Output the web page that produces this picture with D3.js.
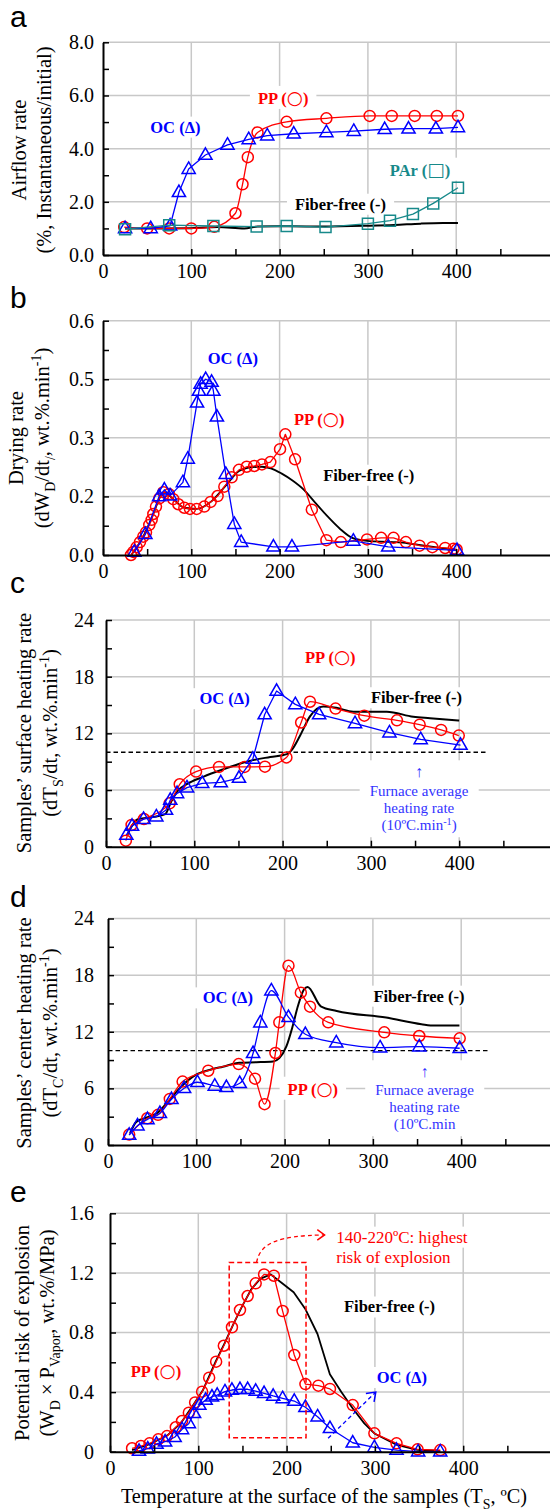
<!DOCTYPE html>
<html><head><meta charset="utf-8">
<script src="https://cdn.jsdelivr.net/npm/d3@7"></script>
<style>body{margin:0;background:#fff}</style>
</head><body>
<script>
// ---------------- DATA ----------------
const xTicks = [0,100,200,300,400];
const xTickLabels = ["0","100","200","300","400"];
const xGridVals = [100,200,300,400];
const xMinor = [50,150,250,350,450];

// panel a: airflow rate
const aYTicks=[0,2,4,6,8], aYLabels=["0.0","2.0","4.0","6.0","8.0"], aYMinor=[1,3,5,7];
const aOC=[[25,1.0],[54,1.0],[76,1.1],[86,2.36],[97,3.23],[116,3.76],[141,4.14],[165,4.35],[186,4.49],[216,4.56],[253,4.61],[284,4.66],[319,4.73],[346,4.75],[377,4.75],[402,4.8]];
const aPP=[[24,1.05],[50,1.0],[75,1.0],[100,1.0],[126,1.06],[150,1.57],[158,2.66],[164,3.68],[175,4.61],[208,5.01],[253,5.14],[302,5.23],[327,5.23],[353,5.23],[378,5.23],[402,5.23]];
const aPAr=[[25,0.97],[75,1.12],[125,1.09],[174,1.07],[208,1.09],[252,1.05],[300,1.18],[325,1.29],[351,1.54],[374,1.94],[402,2.53]];
const aFF=[[25,1.0],[50,1.0],[100,1.01],[130,1.05],[160,1.0],[175,1.07],[210,1.08],[250,1.07],[300,1.1],[330,1.13],[360,1.18],[385,1.2],[402,1.2]];

// panel b: drying rate
const bYTicks=[0,0.15,0.3,0.45,0.6], bYLabels=["0.0","0.2","0.3","0.5","0.6"], bYMinor=[0.075,0.225,0.375,0.525];
const bOC=[[35.5,0.008],[48,0.053],[63.5,0.15],[69.5,0.167],[76,0.152],[90.5,0.186],[96,0.246],[106.5,0.39],[108.7,0.42],[110.6,0.438],[116.3,0.45],[123,0.443],[125,0.42],[129,0.354],[139,0.207],[148.7,0.079],[156.5,0.033],[193,0.021],[214,0.021],[283.5,0.036],[323,0.021],[401,0.012]];
const bPP=[[31.7,0.0],[34.3,0.008],[38.1,0.02],[41.9,0.033],[45.6,0.047],[48.7,0.058],[52.4,0.077],[55.1,0.09],[57,0.105],[60,0.124],[63.8,0.145],[68.3,0.161],[74.7,0.156],[79.6,0.143],[85.3,0.13],[92.1,0.121],[98.5,0.118],[106.1,0.118],[114.7,0.124],[121.9,0.136],[129.8,0.151],[137.4,0.175],[145.7,0.199],[154,0.218],[162.7,0.226],[171.3,0.228],[180,0.232],[189.5,0.238],[200.5,0.271],[206.5,0.309],[217.5,0.245],[236.5,0.116],[253,0.038],[269.3,0.033],[299,0.04],[315,0.044],[329,0.044],[343,0.033],[358.5,0.024],[373,0.02],[387.5,0.018],[397,0.016],[400.5,0.014]];
const bFF=[[32,0.0],[45,0.045],[57,0.105],[65,0.15],[70,0.16],[80,0.142],[92,0.121],[106,0.118],[122,0.136],[138,0.175],[154,0.215],[165,0.224],[180,0.226],[190,0.222],[202,0.209],[215,0.19],[227,0.168],[240,0.135],[253,0.102],[268,0.068],[283,0.043],[299,0.036],[329,0.033],[345,0.03],[360,0.025],[376,0.02],[400,0.013]];

// panel c: surface heating rate
const cdYTicks=[0,6,12,18,24], cdYLabels=["0","6","12","18","24"], cdYMinor=[3,9,15,21];
const furnaceRate=[10];
const furnaceLineEnd=[0,433];
const cOC=[[23,1.24],[29.5,2.19],[42.5,2.92],[57,3.18],[68,3.89],[72.8,4.94],[80.5,5.65],[91.7,6.25],[109,6.71],[130,6.8],[150.6,7.27],[166.3,9.29],[179.7,14.0],[193.2,16.48],[214.4,15.07],[241.4,14.0],[282,13.06],[321,12.07],[356.4,11.36],[401.5,10.76]];
const cPP=[[22.5,0.64],[29,2.3],[43,2.93],[72,4.59],[83.5,6.61],[102,7.95],[128,8.45],[157,8.45],[180,8.47],[204.3,9.45],[221,13.15],[231,15.35],[260,14.62],[292.5,13.87],[329.5,13.38],[355.2,12.92],[379.5,12.36],[399.5,11.76]];
const cFF=[[24,1.2],[27,1.8],[36,2.9],[57,3.2],[67,3.45],[74,4.8],[82,6.0],[91,6.6],[110,7.4],[133,8.2],[159,9.0],[186,9.5],[205,9.8],[210,10.2],[220,11.8],[231,13.8],[246,14.85],[261,14.7],[280,14.3],[318,14.3],[348,13.75],[367,13.6],[400,13.35]];

// panel d: center heating rate
const dOC=[[24,1.06],[33.4,2.05],[44.7,2.72],[58.8,3.36],[71.9,4.85],[86.2,6.01],[101.3,6.65],[120.9,6.26],[134.1,6.12],[149.2,6.54],[164.3,9.72],[172.5,12.97],[185,16.36],[204.4,13.54],[223.5,11.74],[258.5,10.85],[308.2,10.32],[352.5,10.42],[398.3,10.25]];
const dPP=[[24,1.1],[44.5,2.83],[56.7,3.2],[70,4.88],[84.5,6.72],[113.5,7.87],[148,8.57],[166.5,7.03],[177.3,4.33],[189.6,9.75],[194,13.0],[204.4,19.0],[218.4,16.14],[228.8,14.66],[249.4,13.0],[312.9,11.94],[352.5,11.55],[398.3,11.3]];
const dFF=[[25,1.25],[32,2.45],[42,2.85],[55,3.35],[70,4.8],[81,6.0],[99,7.4],[115,7.95],[130,8.3],[149,8.72],[168,8.77],[187,8.85],[194,9.2],[202,10.45],[209,12.55],[215,14.7],[222,16.5],[226,16.75],[241,14.7],[259,14.2],[315,13.5],[355,12.8],[370,12.65],[398,12.65]];

// panel e: potential risk of explosion
const eYTicks=[0,0.4,0.8,1.2,1.6], eYLabels=["0","0.4","0.8","1.2","1.6"], eYMinor=[0.2,0.6,1.0,1.4];
const ePP=[[25,0.023],[35,0.038],[44.8,0.056],[54.7,0.083],[64.6,0.105],[74.5,0.164],[81.6,0.206],[89.3,0.262],[96.4,0.331],[104.3,0.403],[112.3,0.497],[120.2,0.604],[128.9,0.711],[138.1,0.835],[147.2,0.951],[155.9,1.045],[165,1.13],[174.5,1.19],[185.6,1.181],[195.5,0.944],[208.7,0.649],[221.3,0.454],[236,0.443],[249.1,0.421],[274.9,0.313],[299.4,0.123],[324.5,0.056],[348.3,0.016],[374.1,0.011]];
const eOC=[[32.9,0.005],[42.8,0.02],[52.7,0.052],[62.4,0.067],[73.2,0.097],[81.6,0.15],[89.3,0.19],[95.2,0.258],[101.2,0.313],[108.3,0.347],[115.5,0.369],[121.4,0.38],[130.2,0.403],[138.1,0.414],[147.2,0.419],[155.9,0.419],[165,0.407],[174.5,0.392],[184.8,0.374],[195.5,0.358],[208.7,0.34],[221.3,0.298],[235.1,0.235],[249.1,0.157],[274.9,0.06],[299.4,0.029],[324.5,0.011],[349,0.0],[374,0.0]];
const eFF=[[25,0.01],[45,0.05],[65,0.11],[80,0.19],[95,0.32],[105,0.41],[120,0.61],[130,0.73],[140,0.86],[150,0.98],[160,1.09],[170,1.16],[182,1.19],[195,1.13],[208,1.07],[221,0.96],[235,0.79],[249,0.52],[262,0.4],[275,0.29],[288,0.19],[300,0.12],[325,0.045],[348,0.012],[374,0.005]];
const eRiskBoxX=[135,222], eRiskBoxY=[0.094,1.27];

// ---------------- DRAWING ----------------
const RED="#ff0000", BLUE="#0000ff", TEAL="#17898a", BLACK="#000";
const SERIF="'Liberation Serif','Times New Roman',serif";
const KX=0.883;
const svg=d3.select("body").append("svg").attr("width",550).attr("height",1511)
  .style("font-family",SERIF);

const markerPath={
  circle:d3.symbol(d3.symbolCircle,Math.PI*5.5*5.5)(),
  tri:"M0,-7.2L6.6,4.3L-6.6,4.3Z",
  sq:"M-5.5,-5.5h11v11h-11Z"
};

function rich(textSel, segs, fs){
  let shift=0;
  segs.forEach(s=>{
    const t=s[0], type=s[1]||"";
    const target = type==="sub"? fs*0.28 : type==="sup"? -fs*0.38 : 0;
    const ts=textSel.append("tspan").text(t).attr("dy",target-shift);
    if(type==="sub"||type==="sup") ts.attr("font-size",fs*0.68);
    if(type==="sym") ts.attr("font-size",fs*1.12).attr("font-weight","normal").attr("font-family","'DejaVu Sans',sans-serif");
    shift=target;
  });
}

function drawPanel(p){
  const g=svg.append("g");
  const x=d3.scaleLinear().domain([0,(550-p.x0)/KX]).range([p.x0,550]);
  const y=d3.scaleLinear().domain([0,p.yMax]).range([p.yBottom,p.yTop]);
  const grid=g.append("g"), bg=g.append("g"), dat=g.append("g"), ax=g.append("g"), txt=g.append("g");
  p.x=x; p.y=y; p.bg=bg; p.dat=dat; p.txt=txt;

  grid.selectAll("line.h").data(p.yTicks.filter(v=>v>0)).join("line").attr("class","h")
    .attr("x1",p.x0).attr("x2",550).attr("y1",d=>y(d)).attr("y2",d=>y(d))
    .attr("stroke","#c8c8c8").attr("stroke-width",1.5);
  grid.selectAll("line.v").data(xGridVals).join("line").attr("class","v")
    .attr("x1",d=>x(d)).attr("x2",d=>x(d)).attr("y1",p.yBottom).attr("y2",p.yTop)
    .attr("stroke","#c8c8c8").attr("stroke-width",1.5);

  const xa=ax.append("g").attr("transform",`translate(0,${p.yBottom})`)
    .call(d3.axisBottom(x).tickValues(xTicks).tickFormat((d,i)=>xTickLabels[i]).tickSize(-6).tickSizeOuter(0).tickPadding(9));
  const xm=ax.append("g").attr("transform",`translate(0,${p.yBottom})`)
    .call(d3.axisBottom(x).tickValues(xMinor).tickFormat("").tickSize(-6).tickSizeOuter(0));
  xm.select(".domain").remove();
  const ya=ax.append("g").attr("transform",`translate(${p.x0},0)`)
    .call(d3.axisLeft(y).tickValues(p.yTicks).tickFormat((d,i)=>p.yLabels[i]).tickSize(-6).tickSizeOuter(0).tickPadding(p.x0-94));
  const ym=ax.append("g").attr("transform",`translate(${p.x0},0)`)
    .call(d3.axisLeft(y).tickValues(p.yMinor).tickFormat("").tickSize(-6).tickSizeOuter(0));
  ym.select(".domain").remove();
  [xa,xm,ya,ym].forEach(a=>{
    a.attr("font-family",SERIF).attr("font-size",20);
    a.selectAll(".domain").attr("stroke","#000").attr("stroke-width",2);
    a.selectAll(".tick line").attr("stroke","#000").attr("stroke-width",1.5);
    a.selectAll(".tick text").attr("fill","#000");
  });

  txt.append("text").attr("x",p.letter[1]).attr("y",p.letter[2]).text(p.letter[0])
    .attr("font-family","'Liberation Sans',Arial,sans-serif").attr("font-size",30);

  const fs=20.5;
  [[p.ylab[0],p.ylabX[0]],[p.ylab[1],p.ylabX[1]]].forEach(([segs,bx])=>{
    const t=txt.append("text").attr("transform",`translate(${bx},${p.ylabC}) rotate(-90)`)
      .attr("text-anchor","middle").attr("font-size",fs);
    rich(t,segs,fs);
  });

  if(p.dashed){
    dat.append("line").attr("x1",x(furnaceLineEnd[0])).attr("x2",x(furnaceLineEnd[1]))
      .attr("y1",y(furnaceRate[0])).attr("y2",y(furnaceRate[0]))
      .attr("stroke","#000").attr("stroke-width",1.3).attr("stroke-dasharray","4.5,3");
  }

  p.series.forEach(s=>{
    const line=d3.line().x(d=>x(d[0])).y(d=>y(d[1])).curve(s.curve||d3.curveLinear);
    dat.append("path").attr("d",line(s.data)).attr("fill","none").attr("stroke",s.color)
      .attr("stroke-width",s.w||1.3).attr("stroke-linejoin","round");
    if(s.marker){
      dat.append("g").selectAll("path").data(s.data).join("path")
        .attr("transform",d=>`translate(${x(d[0])},${y(d[1])})`)
        .attr("d",markerPath[s.marker]).attr("fill","none").attr("stroke",s.color).attr("stroke-width",1.5);
    }
  });

  p.labels.forEach(l=>addLabel(p,l));
  if(p.extra) p.extra(p);
}

function addLabel(p,l){
  const fs=l.size||16.5;
  const t=p.txt.append("text").attr("x",p.x(l.at[0])).attr("y",p.y(l.at[1])+fs*0.35)
    .attr("text-anchor",l.anchor||"middle").attr("font-size",fs)
    .attr("font-weight",l.weight||"bold").attr("fill",l.color);
  rich(t,l.segs,fs);
  if(l.bg!==false){
    const b=t.node().getBBox(); const px=l.padX==null?8:l.padX, py=l.padY==null?1:l.padY;
    p.bg.append("rect").attr("x",b.x-px).attr("y",b.y-py).attr("width",b.width+2*px).attr("height",b.height+2*py).attr("fill","#fff");
  }
  return t;
}

function furnace(p,cx,lines,arrowV){
  const items=[];
  items.push(addLabel(p,{segs:[["↑"]],at:[cx,arrowV],color:"#3333ff",weight:"normal",size:16,bg:false}));
  lines.forEach(([segs,v])=>items.push(addLabel(p,{segs,at:[cx,v],color:"#3333ff",weight:"normal",size:15,bg:false})));
  let x0=1e9,y0=1e9,x1=-1e9,y1=-1e9;
  items.forEach(t=>{const b=t.node().getBBox();x0=Math.min(x0,b.x);y0=Math.min(y0,b.y);x1=Math.max(x1,b.x+b.width);y1=Math.max(y1,b.y+b.height);});
  p.bg.append("rect").attr("x",x0-10).attr("y",y0-3).attr("width",x1-x0+20).attr("height",y1-y0+6).attr("fill","#fff");
}

function chevron(sel,tip,from,color,len){
  const ang=Math.atan2(tip[1]-from[1],tip[0]-from[0]);
  const a1=ang+Math.PI*0.8, a2=ang-Math.PI*0.8;
  sel.append("path").attr("d",`M${tip[0]+len*Math.cos(a1)},${tip[1]+len*Math.sin(a1)}L${tip[0]},${tip[1]}L${tip[0]+len*Math.cos(a2)},${tip[1]+len*Math.sin(a2)}`)
    .attr("fill","none").attr("stroke",color).attr("stroke-width",1.5);
}

const PPsegs=[["PP ("],["○","sym"],[")"]];
const OCsegs=[["OC ("],["Δ"],[")"]];
const FFsegs=[["Fiber-free (-)"]];
const subMin=[["(dT"],["S","sub"],["/dt, wt.%.min"],["-1","sup"],[")"]];

const panels=[
 {x0:103,yBottom:255,yTop:42.3,yMax:8,yTicks:aYTicks,yLabels:aYLabels,yMinor:aYMinor,
  letter:["a",10,27],ylabC:150,ylabX:[26,51],
  ylab:[[["Airflow rate"]],[["(%, Instantaneous/initial)"]]],
  series:[{data:aFF,color:BLACK,w:2,curve:d3.curveMonotoneX},
          {data:aPP,color:RED,marker:"circle",curve:d3.curveMonotoneX},
          {data:aOC,color:BLUE,marker:"tri"},
          {data:aPAr,color:TEAL,marker:"sq"}],
  labels:[{segs:PPsegs,at:[204,5.9],color:RED},{segs:OCsegs,at:[82,4.82],color:BLUE},
          {segs:[["PAr ("],["□","sym"],[")"]],at:[359,3.2],color:TEAL},{segs:FFsegs,at:[269,1.92],color:BLACK}]},
 {x0:103,yBottom:555,yTop:320.7,yMax:0.6,yTicks:bYTicks,yLabels:bYLabels,yMinor:bYMinor,
  letter:["b",10,308],ylabC:438,ylabX:[23,49],
  ylab:[[["Drying rate"]],[["(dW"],["D","sub"],["/dt"],["/","sub"],[", wt.%.min"],["-1","sup"],[")"]]],
  series:[{data:bFF,color:BLACK,w:1.8,curve:d3.curveMonotoneX},
          {data:bPP,color:RED,marker:"circle"},
          {data:bOC,color:BLUE,marker:"tri"}],
  labels:[{segs:OCsegs,at:[147,0.505],color:BLUE},{segs:PPsegs,at:[244.8,0.348],color:RED},{segs:FFsegs,at:[301,0.205],color:BLACK}]},
 {x0:106,yBottom:846.7,yTop:620,yMax:24,yTicks:cdYTicks,yLabels:cdYLabels,yMinor:cdYMinor,dashed:true,
  letter:["c",10,593],ylabC:733,ylabX:[31,57],
  ylab:[[["Samples’ surface heating rate"]],subMin],
  series:[{data:cFF,color:BLACK,w:2,curve:d3.curveMonotoneX},
          {data:cPP,color:RED,marker:"circle",curve:d3.curveMonotoneX},
          {data:cOC,color:BLUE,marker:"tri"}],
  labels:[{segs:PPsegs,at:[254,20.1],color:RED},{segs:OCsegs,at:[134.3,15.7],color:BLUE},{segs:FFsegs,at:[351.6,15.8],color:BLACK}],
  extra:p=>furnace(p,354.5,[[[["Furnace average"]],5.93],[[["heating rate"]],4.13],[[["(10ºC.min"],["-1","sup"],[")"]],2.3]],7.94)},
 {x0:108,yBottom:1145,yTop:918.5,yMax:24,yTicks:cdYTicks,yLabels:cdYLabels,yMinor:cdYMinor,dashed:true,
  letter:["d",10,907],ylabC:1033,ylabX:[31,57],
  ylab:[[["Samples’ center heating rate"]],[["(dT"],["C","sub"],["/dt, wt.%.min"],["-1","sup"],[")"]]],
  series:[{data:dFF,color:BLACK,w:2,curve:d3.curveMonotoneX},
          {data:dPP,color:RED,marker:"circle",curve:d3.curveMonotoneX},
          {data:dOC,color:BLUE,marker:"tri",curve:d3.curveMonotoneX}],
  labels:[{segs:OCsegs,at:[135.7,15.62],color:BLUE},{segs:FFsegs,at:[352.2,15.8],color:BLACK},{segs:PPsegs,at:[232,5.94],color:RED}],
  extra:p=>furnace(p,358.5,[[[["Furnace average"]],5.83],[[["heating rate"]],4.06],[[["(10ºC.min"]],2.23]],7.77)},
 {x0:110,yBottom:1451.7,yTop:1213.3,yMax:1.6,yTicks:eYTicks,yLabels:eYLabels,yMinor:eYMinor,
  letter:["e",10,1202],ylabC:1333,ylabX:[29,54],
  ylab:[[["Potential risk of explosion"]],[["(W"],["D","sub"],[" × P"],["Vapor","sub"],[", wt.%/MPa)"]]],
  series:[{data:eFF,color:BLACK,w:1.8},
          {data:ePP,color:RED,marker:"circle"},
          {data:eOC,color:BLUE,marker:"tri"}],
  labels:[{segs:PPsegs,at:[52,0.537],color:RED},{segs:OCsegs,at:[330.5,0.5],color:BLUE},{segs:FFsegs,at:[316.6,0.973],color:BLACK},
          {segs:[["140-220ºC: highest"]],at:[256.2,1.443],color:RED,weight:"normal",size:17,anchor:"start",padX:4},
          {segs:[["risk of explosion"]],at:[256.2,1.309],color:RED,weight:"normal",size:17,anchor:"start",padX:4}],
  extra:p=>{
    const x=p.x,y=p.y;
    p.dat.append("rect").attr("x",x(eRiskBoxX[0])).attr("y",y(eRiskBoxY[1]))
      .attr("width",x(eRiskBoxX[1])-x(eRiskBoxX[0])).attr("height",y(eRiskBoxY[0])-y(eRiskBoxY[1]))
      .attr("fill","none").attr("stroke",RED).attr("stroke-width",1.5).attr("stroke-dasharray","5,3");
    const s=[x(166),y(1.27)], c1=[x(170),y(1.40)], c2=[x(190),y(1.45)], e=[x(243),y(1.455)];
    p.dat.append("path").attr("d",`M${s}C${c1} ${c2} ${e}`).attr("fill","none").attr("stroke",RED)
      .attr("stroke-width",1.3).attr("stroke-dasharray","4,3");
    chevron(p.dat,e,[x(220),y(1.455)],RED,9);
    const bs=[x(247),y(0.09)], be=[x(301),y(0.4)];
    p.dat.append("line").attr("x1",bs[0]).attr("y1",bs[1]).attr("x2",be[0]).attr("y2",be[1])
      .attr("stroke",BLUE).attr("stroke-width",1.3).attr("stroke-dasharray","4,3");
    chevron(p.dat,be,bs,BLUE,10);
    const t=p.txt.append("text").attr("x",324).attr("y",1503).attr("text-anchor","middle").attr("font-size",20.3);
    rich(t,[["Temperature at the surface of the samples (T"],["S","sub"],[", ºC)"]],20.3);
  }}
];
panels.forEach(drawPanel);
</script>
</body></html>
